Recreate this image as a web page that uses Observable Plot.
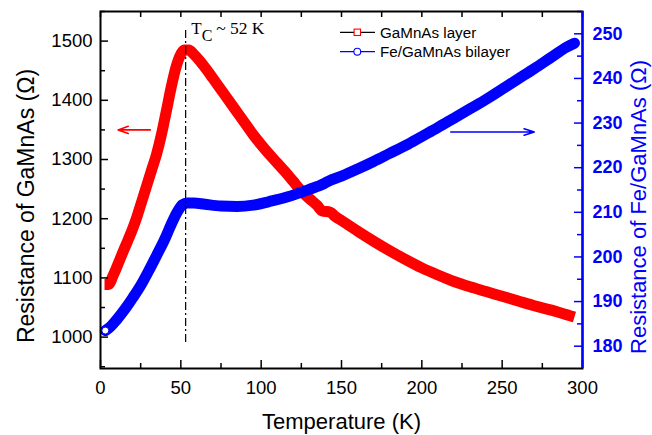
<!DOCTYPE html>
<html>
<head>
<meta charset="utf-8">
<script src="https://cdn.jsdelivr.net/npm/d3@7"></script>
<script src="https://cdn.jsdelivr.net/npm/@observablehq/plot@0.6"></script>
<style>
  html, body { margin: 0; padding: 0; background: #fff; }
  #chart svg { display: block; }
</style>
</head>
<body>
<div id="chart"></div>
<script>
// ---- data ----
const gamnasTemperature = [2.5, 5, 8, 11, 14, 17, 20, 23, 26, 29, 32, 35, 38, 41, 44, 47, 50, 52, 55, 58, 62, 66, 70, 75, 80, 85, 90, 95, 100, 105, 110, 115, 120, 125, 130, 135, 138, 143, 146, 150, 160, 170, 180, 190, 200, 210, 220, 230, 240, 250, 260, 270, 280, 290, 295];
const gamnasResistance = [1089, 1089, 1105, 1124, 1144, 1163, 1183, 1206, 1232, 1258, 1284, 1310, 1343, 1382, 1422, 1456, 1478, 1485, 1485, 1478, 1466, 1452, 1437, 1418, 1399, 1380, 1361, 1342, 1325, 1309, 1294, 1279, 1263, 1247, 1234, 1222, 1213, 1211, 1204, 1197, 1179, 1162, 1146, 1131, 1117, 1105, 1094, 1085, 1077, 1069, 1061, 1053, 1046, 1038, 1034];

const bilayerTemperature = [3, 6, 10, 15, 20, 25, 30, 35, 40, 44, 48, 51, 54, 58, 65, 75, 85, 95, 105, 115, 125, 135, 139, 142, 150, 160, 170, 180, 190, 200, 210, 220, 230, 240, 250, 260, 270, 280, 290, 295];
const bilayerResistance = [183.5, 184.3, 185.9, 188.2, 190.8, 193.6, 196.9, 200.4, 204.0, 207.3, 210.2, 211.7, 212.1, 212.1, 211.8, 211.4, 211.3, 211.6, 212.4, 213.3, 214.5, 215.8, 216.4, 217.0, 218.1, 219.7, 221.4, 223.2, 225.0, 227.0, 229.0, 231.1, 233.2, 235.3, 237.6, 239.9, 242.2, 244.6, 247.0, 247.9];

const xDomain = [0, 300];
const leftDomain = [947, 1550];
const rightDomain = [175, 255];

const xMajorTicks = [0, 50, 100, 150, 200, 250, 300];
const xMinorTicks = [25, 75, 125, 175, 225, 275];
const leftMajorTicks = [1000, 1100, 1200, 1300, 1400, 1500];
const leftMinorTicks = [950, 1050, 1150, 1250, 1350, 1450, 1550];
const rightMajorTicks = [180, 190, 200, 210, 220, 230, 240, 250];
const rightMinorTicks = [185, 195, 205, 215, 225, 235, 245, 255];

const curieTemperature = [53];
const curieLabel = ["T", "C", "~ 52 K"];

const leftArrowTemperature = [31, 11];
const leftArrowResistance = [1350];
const rightArrowTemperature = [218, 270];
const rightArrowResistance = [228];

const xTitle = "Temperature (K)";
const leftTitle = "Resistance of GaMnAs (Ω)";
const rightTitle = "Resistance of Fe/GaMnAs (Ω)";
const legendLabels = ["GaMnAs layer", "Fe/GaMnAs bilayer"];

// ---- layout ----
const width = 652, height = 435;
const marginLeft = 100, marginRight = 70, marginTop = 11, marginBottom = 67;
const frameW = width - marginLeft - marginRight;
const frameH = height - marginTop - marginBottom;
const RED = "#ff0000", BLUE = "#0000ff";
const FONT = "'Liberation Sans', Arial, Helvetica, sans-serif";
const SERIF = "'Liberation Serif', 'Times New Roman', serif";

// right axis values expressed on the left scale
const toLeft = r => leftDomain[0] + (r - rightDomain[0]) * (leftDomain[1] - leftDomain[0]) / (rightDomain[1] - rightDomain[0]);
const fromLeft = v => rightDomain[0] + (v - leftDomain[0]) * (rightDomain[1] - rightDomain[0]) / (leftDomain[1] - leftDomain[0]);

const gamnas = gamnasTemperature.map((t, i) => ({t, r: gamnasResistance[i]}));
const bilayer = bilayerTemperature.map((t, i) => ({t, r: bilayerResistance[i]}));

const majorLen = 8, minorLen = 5;

const chart = Plot.plot({
  width, height, marginLeft, marginRight, marginTop, marginBottom,
  style: {fontFamily: FONT, background: "#fff", overflow: "visible"},
  x: {domain: xDomain},
  y: {domain: leftDomain},
  marks: [
    // data curves
    Plot.line(gamnas, {x: "t", y: "r", curve: "monotone-x", stroke: RED, strokeWidth: 11, strokeLinejoin: "round", strokeLinecap: "butt"}),
    Plot.line(bilayer, {x: "t", y: d => toLeft(d.r), curve: "monotone-x", stroke: BLUE, strokeWidth: 11, strokeLinejoin: "round", strokeLinecap: "round"}),
    Plot.dot(bilayer.slice(0, 1), {x: "t", y: d => toLeft(d.r), r: 3.5, fill: "#fff", stroke: BLUE, strokeWidth: 1}),

    // Curie temperature marker
    Plot.ruleX(curieTemperature, {x: d => d, stroke: "#000", strokeWidth: 1.2, strokeDasharray: "8,3,2,3", insetTop: 19, insetBottom: 23}),
    Plot.text([curieLabel[0]], {x: curieTemperature, frameAnchor: "top", text: d => d, dx: 5.5, dy: 22.5, textAnchor: "start", lineAnchor: "bottom", fontFamily: SERIF, fontSize: 17, fill: "#000"}),
    Plot.text([curieLabel[1]], {x: curieTemperature, frameAnchor: "top", text: d => d, dx: 16, dy: 29, textAnchor: "start", lineAnchor: "bottom", fontFamily: SERIF, fontSize: 16, fill: "#000"}),
    Plot.text([curieLabel[2]], {x: curieTemperature, frameAnchor: "top", text: d => d, dx: 30.5, dy: 22.5, textAnchor: "start", lineAnchor: "bottom", fontFamily: SERIF, fontSize: 17.5, fill: "#000"}),

    // direction arrows
    Plot.arrow([0], {x1: () => leftArrowTemperature[0], x2: () => leftArrowTemperature[1], y1: () => leftArrowResistance[0], y2: () => leftArrowResistance[0], stroke: RED, strokeWidth: 1.6, headLength: 10, headAngle: 40}),
    Plot.arrow([0], {x1: () => rightArrowTemperature[0], x2: () => rightArrowTemperature[1], y1: () => toLeft(rightArrowResistance[0]), y2: () => toLeft(rightArrowResistance[0]), stroke: BLUE, strokeWidth: 1.6, headLength: 10, headAngle: 35}),

    // inward ticks
    Plot.ruleX(xMajorTicks, {x: d => d, insetTop: frameH - majorLen, stroke: "#000", strokeWidth: 1.5}),
    Plot.ruleX(xMinorTicks, {x: d => d, insetTop: frameH - minorLen, stroke: "#000", strokeWidth: 1.5}),
    Plot.ruleX(xMajorTicks, {x: d => d, insetBottom: frameH - 6, stroke: "#000", strokeWidth: 1.5}),
    Plot.ruleX(xMinorTicks, {x: d => d, insetBottom: frameH - 6, stroke: "#000", strokeWidth: 1.5}),
    Plot.ruleY(leftMajorTicks, {y: d => d, insetRight: frameW - majorLen, stroke: "#000", strokeWidth: 1.5}),
    Plot.ruleY(leftMinorTicks, {y: d => d, insetRight: frameW - minorLen, stroke: "#000", strokeWidth: 1.5}),
    Plot.ruleY(rightMajorTicks, {y: d => toLeft(d), insetLeft: frameW - majorLen, stroke: BLUE, strokeWidth: 1.5}),
    Plot.ruleY(rightMinorTicks, {y: d => toLeft(d), insetLeft: frameW - minorLen, stroke: BLUE, strokeWidth: 1.5}),

    // axis tick labels
    Plot.axisX(xMajorTicks, {tickSize: 0, tickPadding: 12, label: null, tickFormat: d => String(d), fontSize: 18.5, fill: "#000", fontFamily: FONT}),
    Plot.axisY(leftMajorTicks, {anchor: "left", tickSize: 0, tickPadding: 8, label: null, tickFormat: d => String(d), fontSize: 18.5, fill: "#000", fontFamily: FONT}),
    Plot.axisY(rightMajorTicks.map(toLeft), {anchor: "right", tickSize: 0, tickPadding: 10, label: null, tickFormat: d => String(Math.round(fromLeft(d))), fontSize: 18, fontWeight: "bold", fill: BLUE, fontFamily: FONT}),

    // axis titles
    Plot.text([xTitle], {frameAnchor: "bottom", text: d => d, dy: 60, textAnchor: "middle", lineAnchor: "bottom", fontSize: 22, fill: "#000", fontFamily: FONT}),
    Plot.text([leftTitle], {frameAnchor: "left", text: d => d, dx: -74, dy: 16, rotate: -90, textAnchor: "middle", lineAnchor: "middle", fontSize: 23, fill: "#000", fontFamily: FONT}),
    Plot.text([rightTitle], {frameAnchor: "right", text: d => d, dx: 56, dy: 17, rotate: -90, textAnchor: "middle", lineAnchor: "middle", fontSize: 22, fill: BLUE, fontFamily: FONT}),

    // frame
    Plot.frame({stroke: "#000", strokeWidth: 2}),
    Plot.ruleX([xDomain[1]], {x: d => d, stroke: BLUE, strokeWidth: 2.2})
  ]
});

// legend (presentation only)
const svg = d3.select(chart);
const lg = svg.append("g").attr("font-family", FONT).attr("font-size", 15.2).attr("text-anchor", "start");
const rows = [
  {label: legendLabels[0], line: "#000", marker: "square", color: RED},
  {label: legendLabels[1], line: BLUE, marker: "circle", color: BLUE}
];
rows.forEach((row, i) => {
  const y = 32.3 + i * 19.4;
  lg.append("line").attr("x1", 340).attr("x2", 375).attr("y1", y).attr("y2", y)
    .attr("stroke", row.line).attr("stroke-width", 1.2);
  if (row.marker === "square") {
    lg.append("rect").attr("x", 357.3 - 3.2).attr("y", y - 3.2).attr("width", 6.4).attr("height", 6.4)
      .attr("fill", "#fff").attr("stroke", row.color).attr("stroke-width", 1.1);
  } else {
    lg.append("circle").attr("cx", 357.3).attr("cy", y).attr("r", 3.4)
      .attr("fill", "#fff").attr("stroke", row.color).attr("stroke-width", 1.1);
  }
  lg.append("text").attr("x", 380).attr("y", y + 5.2).attr("text-anchor", "start").attr("fill", "#000").text(row.label);
});

document.getElementById("chart").appendChild(chart);
</script>
</body>
</html>
